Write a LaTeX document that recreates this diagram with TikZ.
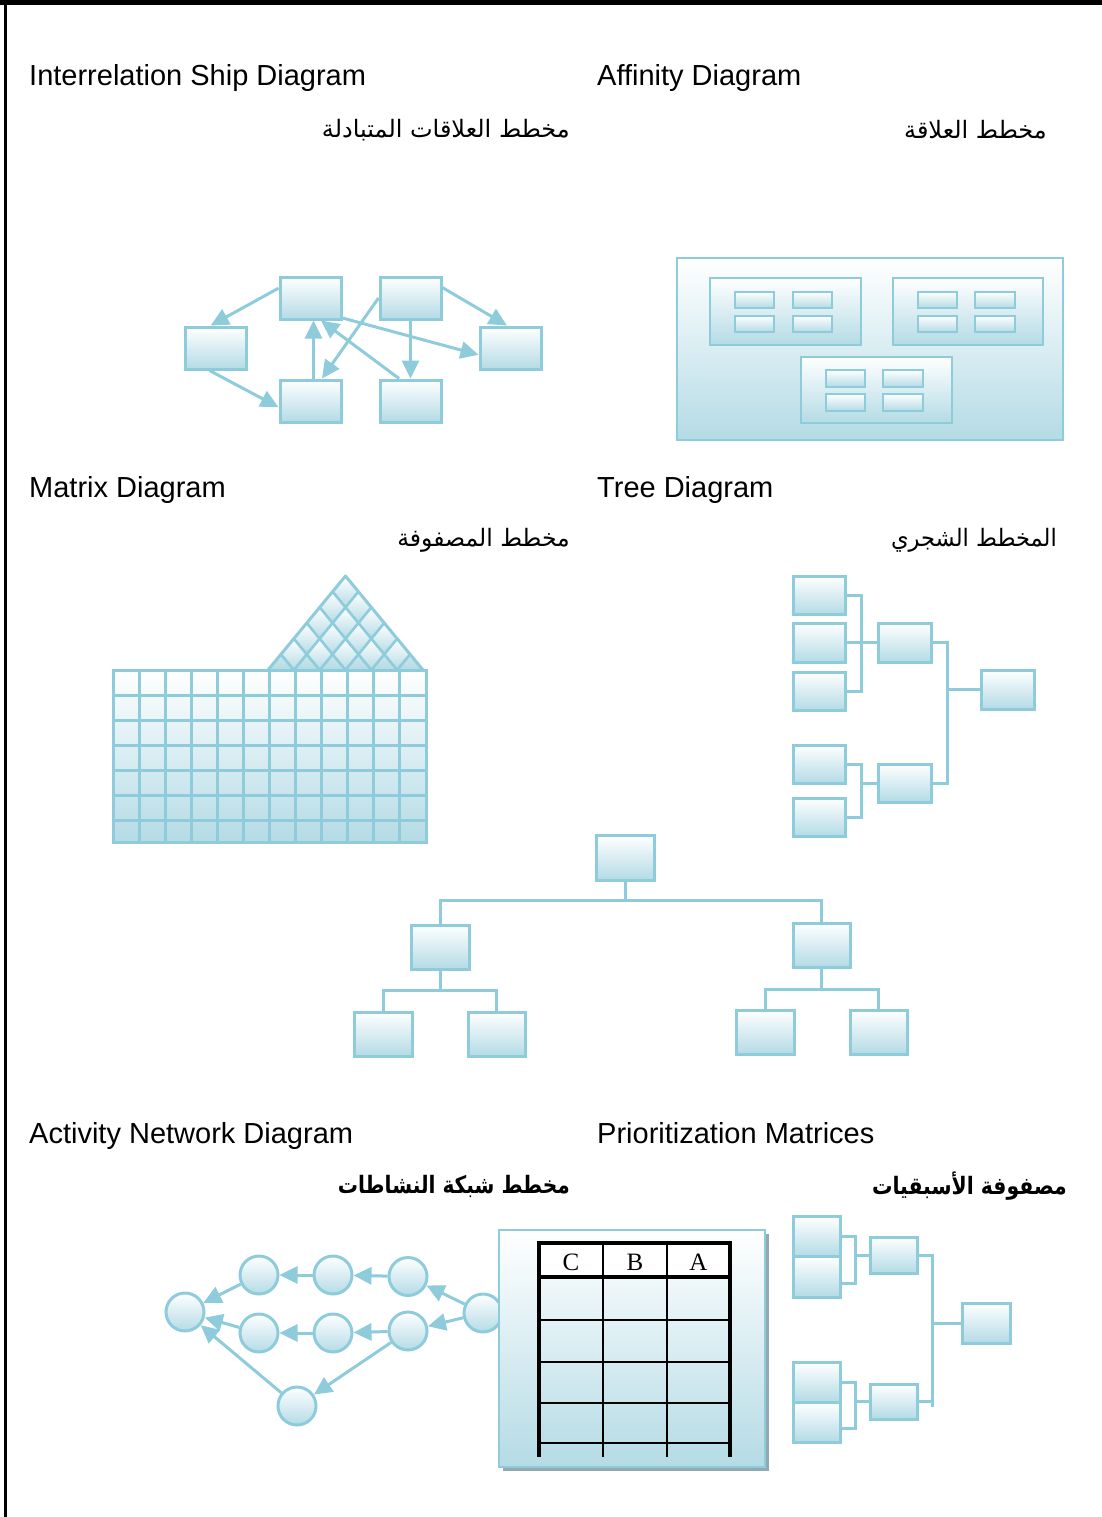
\documentclass[tikz,border=0pt]{standalone}
\usepackage{fontspec}
\usepackage{graphicx}
\setmainfont{Liberation Sans}
\newfontfamily\arabicfont[Script=Arabic]{DejaVu Sans}
\newfontfamily\tabfont{Liberation Serif}
\TeXXeTstate=1
\usetikzlibrary{arrows.meta,calc}
\definecolor{edgeblue}{HTML}{8ECCDB}
\definecolor{fillblue}{HTML}{B4DBE5}
\definecolor{shadowgray}{HTML}{90A9B3}
\newcommand\mybox[6][]{\node[bx,#1,minimum width={(#5-#3)*1pt},minimum height={(#6-#4)*1pt}] (#2) at ({(#3+#5)/2},{(#4+#6)/2}) {};}
\begin{document}
\begin{tikzpicture}[x=1pt,y=-1pt,
  bx/.style={rectangle,draw=edgeblue,line width=3pt,top color=white,bottom color=fillblue,inner sep=0pt},
  thin/.style={line width=2.6pt},
  arr/.style={draw=edgeblue,line width=3pt,-{Triangle[length=18pt,width=17pt]}},
  conn/.style={draw=edgeblue,line width=3pt},
  gridl/.style={draw=edgeblue,line width=3pt,line cap=rect},
  circ/.style={circle,draw=edgeblue,line width=3pt,top color=white,bottom color=fillblue,minimum size=38pt,inner sep=0pt},
  en/.style={anchor=base west,inner sep=0pt,font=\fontsize{29}{34}\selectfont},
  ar/.style={anchor=east,inner sep=0pt,font=\arabicfont\fontsize{24}{30}\selectfont},
  arb/.style={anchor=east,inner sep=0pt,font=\arabicfont\bfseries\fontsize{24}{30}\selectfont},
  tabl/.style={inner sep=0pt,font=\tabfont\fontsize{25}{28}\selectfont}
]
\useasboundingbox (0,0) rectangle (1102,1517);
\fill[white] (0,0) rectangle (1102,1517);
% frame
\draw[line width=5pt] (0,2.5) -- (1102,2.5);
\draw[line width=3.5pt] (5.5,0) -- (5.5,1517);

% ---------- labels ----------
\node[en] (t1) at (29,86) {Interrelation Ship Diagram};
\node[en] (t2) at (597,86) {Affinity Diagram};
\node[en] (t3) at (29,497) {Matrix Diagram};
\node[en] (t4) at (597,497) {Tree Diagram};
\node[en] (t5) at (29,1143) {Activity Network Diagram};
\node[en] (t6) at (597,1143) {Prioritization Matrices};
\node[ar] (a1) at (570,130) {\beginR مخطط العلاقات المتبادلة\endR};
\node[ar] (a2) at (1047,130) {\beginR مخطط العلاقة\endR};
\node[ar] (a3) at (570,540) {\scalebox{0.98}[1]{\beginR مخطط المصفوفة\endR}};
\node[ar] (a4) at (1057,540) {\scalebox{0.94}[1]{\beginR المخطط الشجري\endR}};
\node[arb] (a5) at (570,1186) {\scalebox{0.84}[1]{\beginR مخطط شبكة النشاطات\endR}};
\node[arb] (a6) at (1067,1186) {\scalebox{0.85}[1]{\beginR مصفوفة الأسبقيات\endR}};

% ---------- interrelationship ----------
\mybox{iA}{280}{277}{341}{319}
\mybox{iB}{380}{277}{441}{319}
\mybox{iC}{185}{327}{246}{369}
\mybox{iD}{480}{327}{541}{369}
\mybox{iE}{280}{380}{341}{422}
\mybox{iF}{380}{380}{441}{422}
\draw[arr] (iA.163) -- (iC.102);
\draw[arr] (iC.255) -- (iE.191);
\draw[arr] ($(iE.north)+(3,0)$) -- ($(iA.south)+(3,0)$);
\draw[arr] (iF.117) -- (iA.295);
\draw[arr] (iA.328) -- (iD.192);
\draw[arr] (iB.west) -- (iE.63);
\draw[arr] (iB.south) -- (iF.north);
\draw[arr] (iB.18) -- (iD.99);

% ---------- affinity ----------
\mybox[thin]{fO}{677}{258}{1063}{440}
\mybox[thin]{fG1}{710}{278}{861}{345}
\mybox[thin]{fG2}{893}{278}{1043}{345}
\mybox[thin]{fG3}{801}{357}{952}{423}
\mybox[thin]{f11}{735}{292}{774}{308}
\mybox[thin]{f12}{793}{292}{832}{308}
\mybox[thin]{f13}{735}{316}{774}{332}
\mybox[thin]{f14}{793}{316}{832}{332}
\mybox[thin]{f21}{918}{292}{957}{308}
\mybox[thin]{f22}{975}{292}{1015}{308}
\mybox[thin]{f23}{918}{316}{957}{332}
\mybox[thin]{f24}{975}{316}{1015}{332}
\mybox[thin]{f31}{826}{370}{865}{387}
\mybox[thin]{f32}{883}{370}{923}{387}
\mybox[thin]{f33}{826}{394}{865}{411}
\mybox[thin]{f34}{883}{394}{923}{411}

% ---------- matrix ----------
\foreach \i in {0,...,5}{
  \foreach \j in {0,...,\i}{
    \ifnum\j<\i
      \shade[top color=white,bottom color=fillblue]
        ({268+12.9167*(\i+\j)},{670-15.6667*(\i-\j)}) --
        ({268+12.9167*(\i+1+\j)},{670-15.6667*(\i+1-\j)}) --
        ({268+12.9167*(\i+2+\j)},{670-15.6667*(\i-\j)}) --
        ({268+12.9167*(\i+1+\j)},{670-15.6667*(\i-1-\j)}) -- cycle;
    \else
      \shade[top color=fillblue!70,bottom color=fillblue]
        ({268+12.9167*(2*\i)},670) --
        ({268+12.9167*(2*\i+1)},{670-15.6667}) --
        ({268+12.9167*(2*\i+2)},670) -- cycle;
    \fi
  }
}
\foreach \k in {1,...,5}{
  \draw[gridl,line cap=butt,line width=2.6pt] ({268+12.9167*2*\k},670) -- ({268+12.9167*(6+\k)},{670-15.6667*(6-\k)});
  \draw[gridl,line cap=butt,line width=2.6pt] ({268+12.9167*2*\k},670) -- ({268+12.9167*\k},{670-15.6667*\k});
}
\draw[gridl,line cap=butt,line join=round] (268,670) -- (345.5,576) -- (423,670);
\shade[top color=white,bottom color=fillblue] (113,670) rectangle (426,842);
\foreach \k in {0,...,12} \draw[gridl] ({113+\k*26.083},670) -- ({113+\k*26.083},842);
\foreach \yy in {670,695,720,745,770,795,820,842} \draw[gridl] (113,\yy) -- (426,\yy);

% ---------- tree diagram ----------
\mybox{tL1}{793}{576}{845}{614}
\mybox{tL2}{793}{623}{845}{662}
\mybox{tL3}{793}{672}{845}{710}
\mybox{tL4}{793}{745}{845}{783}
\mybox{tL5}{793}{798}{845}{836}
\mybox{tM1}{878}{623}{931}{662}
\mybox{tM2}{878}{764}{931}{802}
\mybox{tR}{981}{670}{1034}{709}
\coordinate (tb1) at (861,691);
\coordinate (tb2) at (861,817);
\coordinate (tb3) at (947,783);
\draw[conn] (tL1.east) -| (tb1) -- (tL3.east);
\draw[conn] (tL2.east) -- (tM1.west);
\draw[conn] (tL4.east) -| (tb2) -- (tL5.east);
\draw[conn] (tM2.west) -- (tM2.west -| tb2);
\draw[conn] (tM1.east) -| (tb3) -- (tM2.east);
\draw[conn] (tR.west) -- (tR.west -| tb3);

% ---------- org chart ----------
\mybox{oT}{596}{835}{654}{880}
\mybox{oL}{411}{925}{469}{969}
\mybox{oR}{793}{923}{850}{967}
\mybox{oL1}{354}{1012}{412}{1056}
\mybox{oL2}{468}{1012}{525}{1056}
\mybox{oR1}{736}{1010}{794}{1054}
\mybox{oR2}{850}{1010}{907}{1054}
\coordinate (h1) at (625,900.5);
\coordinate (h2) at (440,990.5);
\coordinate (h3) at (821.5,989);
\draw[conn] (oT.south) -- (h1);
\draw[conn] (oL.north) |- (h1) -| (oR.north);
\draw[conn] (oL.south) -- (h2);
\draw[conn] (oL1.north) |- (h2) -| (oL2.north);
\draw[conn] (oR.south) -- (h3);
\draw[conn] (oR1.north) |- (h3) -| (oR2.north);

% ---------- activity network ----------
\node[circ] (n0) at (185,1312) {};
\node[circ] (nt1) at (259,1275) {};
\node[circ] (nt2) at (333,1275) {};
\node[circ] (nt3) at (408,1276.5) {};
\node[circ] (nm1) at (259,1333) {};
\node[circ] (nm2) at (333,1333) {};
\node[circ] (nm3) at (408,1331) {};
\node[circ] (nb) at (297,1406) {};
\node[circ] (ns) at (483,1313) {};
\draw[arr] (ns) -- (nt3);
\draw[arr] (ns) -- (nm3);
\draw[arr] (nt3) -- (nt2);
\draw[arr] (nt2) -- (nt1);
\draw[arr] (nt1) -- (n0);
\draw[arr] (nm3) -- (nm2);
\draw[arr] (nm2) -- (nm1);
\draw[arr] (nm1) -- (n0);
\draw[arr] (nm3) -- (nb);
\draw[arr] (nb) -- (n0);

% ---------- table panel ----------
\fill[shadowgray] (503,1234) rectangle (769,1471);
\mybox[thin]{panel}{499}{1230}{765}{1467}
\fill[white] (539,1243) rectangle (730,1277);
\draw[line width=1.8pt] (539,1320) -- (730,1320);
\draw[line width=1.8pt] (539,1362) -- (730,1362);
\draw[line width=1.8pt] (539,1403) -- (730,1403);
\draw[line width=1.8pt] (539,1443) -- (730,1443);
\draw[line width=1.8pt] (603,1243) -- (603,1457);
\draw[line width=1.8pt] (667,1243) -- (667,1457);
\draw[line width=3.5pt] (539,1277) -- (730,1277);
\draw[line width=4pt] (539,1457) -- (539,1243) -- (730,1243) -- (730,1457);
\node[tabl] (hC) at (571,1262) {C};
\node[tabl] (hB) at (635,1262) {B};
\node[tabl] (hA) at (698.5,1262) {A};

% ---------- prioritization tree ----------
\mybox{pL1}{793}{1216}{840}{1256}
\mybox{pL2}{793}{1256}{840}{1297}
\mybox{pL3}{793}{1362}{840}{1402}
\mybox{pL4}{793}{1402}{840}{1442}
\mybox{pM1}{870}{1237}{917}{1273}
\mybox{pM2}{870}{1384}{917}{1419}
\mybox{pR}{962}{1303}{1010}{1343}
\coordinate (pb1) at (855,1283);
\coordinate (pb2) at (855,1428);
\coordinate (pv) at (932,1407);
\draw[conn] (pL1.east) -| (pb1) -- (pL2.east |- pb1);
\draw[conn] (pM1.west) -- (pM1.west -| pb1);
\draw[conn] (pL3.east) -| (pb2) -- (pL4.east |- pb2);
\draw[conn] (pM2.west) -- (pM2.west -| pb2);
\draw[conn] (pM1.east) -| (pv);
\draw[conn] (pM2.east) -- (pM2.east -| pv);
\draw[conn] (pR.west) -- (pR.west -| pv);
\end{tikzpicture}
\end{document}
